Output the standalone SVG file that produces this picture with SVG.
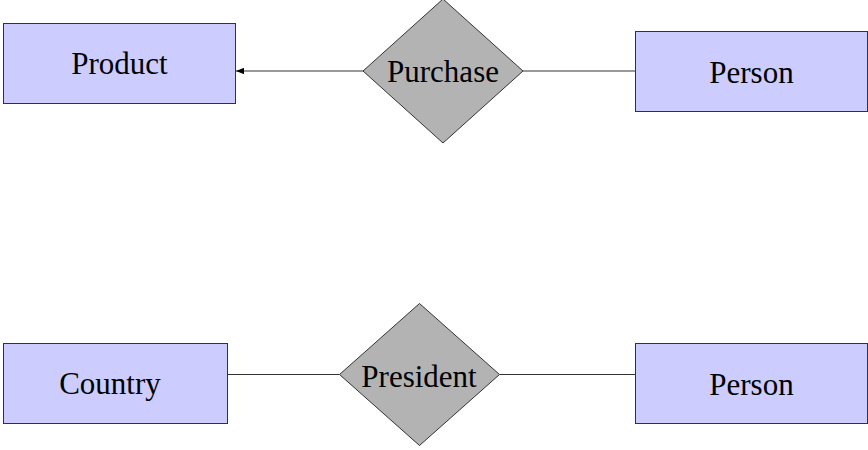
<svg xmlns="http://www.w3.org/2000/svg" width="868" height="450" viewBox="0 0 868 450">
  <defs>
    <style>
      .entity { fill: #ccccff; stroke: #333333; stroke-width: 1; }
      .relation { fill: #b3b3b3; stroke: #333333; stroke-width: 1; }
      .edge { stroke: #333333; stroke-width: 1; fill: none; }
      .label { font-family: "Liberation Serif", "Times New Roman", serif; font-size: 31px; fill: #000000; text-anchor: middle; }
    </style>
    <marker id="arrow" viewBox="0 0 10 8" refX="10" refY="4" markerWidth="8" markerHeight="6.4" markerUnits="userSpaceOnUse" orient="auto">
      <path d="M0,0 L10,4 L0,8 Z" fill="#000000"/>
    </marker>
  </defs>

  <rect width="868" height="450" fill="#ffffff"/>

  <!-- connectors -->
  <g id="connectors">
    <line class="edge" x1="363" y1="71" x2="236" y2="71" marker-end="url(#arrow)"/>
    <line class="edge" x1="523" y1="71" x2="635.5" y2="71"/>
    <line class="edge" x1="227.5" y1="374.5" x2="339.5" y2="374.5"/>
    <line class="edge" x1="499.5" y1="374.5" x2="635.5" y2="374.5"/>
  </g>

  <!-- entities and relationships -->
  <g id="product">
    <rect class="entity" x="3.5" y="23.5" width="232" height="80"/>
    <text class="label" x="119.5" y="74">Product</text>
  </g>

  <g id="purchase">
    <polygon class="relation" points="443,-1 523,71 443,143 363,71"/>
    <text class="label" x="443" y="82">Purchase</text>
  </g>

  <g id="person1">
    <rect class="entity" x="635.5" y="31.5" width="232" height="80"/>
    <text class="label" x="751.5" y="82.5">Person</text>
  </g>

  <g id="country">
    <rect class="entity" x="3.5" y="343.5" width="224" height="80"/>
    <text class="label" x="110" y="393.5">Country</text>
  </g>

  <g id="president">
    <polygon class="relation" points="419.5,303.5 499.5,374.5 419.5,445.5 339.5,374.5"/>
    <text class="label" x="419" y="387">President</text>
  </g>

  <g id="person2">
    <rect class="entity" x="635.5" y="343.5" width="232" height="80"/>
    <text class="label" x="751.5" y="394.5">Person</text>
  </g>
</svg>
